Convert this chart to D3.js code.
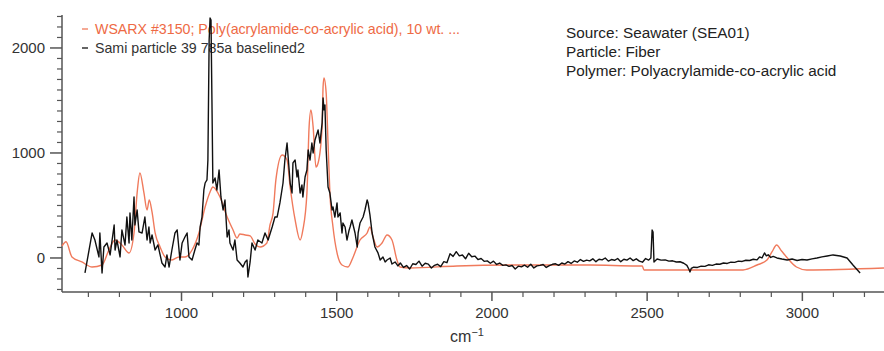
<!DOCTYPE html>
<html>
<head>
<meta charset="utf-8">
<script src="https://cdn.jsdelivr.net/npm/d3@7"></script>
<style>
  html, body { margin: 0; padding: 0; background: #fff; }
  svg { display: block; font-family: "Liberation Sans", Arial, sans-serif; }
</style>
</head>
<body>
<svg id="chart" width="884" height="351"></svg>
<script>
// Reference spectrum: WSARX #3150 (smooth library spectrum)
const refWavenumber = [615,628,647,679,712,744,766,786,808,831,847,857,866,879,889,896,905,915,931,947,969,992,1011,1034,1056,1076,1092,1101,1124,1147,1166,1179,1188,1205,1221,1237,1253,1275,1285,1295,1304,1324,1340,1350,1366,1382,1391,1404,1411,1417,1424,1433,1440,1453,1456,1459,1466,1472,1478,1488,1501,1517,1536,1553,1575,1598,1607,1617,1630,1646,1662,1678,1694,1704,1736,1887,2100,2316,2467,2484,2490,2809,2854,2886,2902,2917,2933,2949,2981,3014,3263];
const refIntensity  = [114,155,10,-38,-86,-67,76,171,124,48,238,619,810,619,457,552,438,238,105,10,-19,10,10,76,238,486,629,676,581,390,267,190,229,219,210,133,105,143,314,430,743,981,933,676,362,171,267,619,1248,1410,1248,867,905,1248,1629,1714,1571,1095,619,295,48,-67,-86,10,171,238,295,200,105,143,219,171,-19,-86,-95,-76,-67,-67,-76,-76,-114,-114,-67,-19,57,124,67,10,-86,-114,-95];

// Measured particle spectrum: Sami particle 39 785a baselined2
const sampleWavenumber = [689,712,721,734,737,744,750,760,770,783,786,792,802,808,818,824,831,834,840,847,850,857,863,873,882,889,895,899,905,915,924,937,947,953,960,969,979,986,992,995,1002,1011,1018,1024,1034,1043,1050,1056,1060,1066,1072,1076,1082,1085,1089,1092,1095,1098,1101,1108,1114,1121,1127,1134,1140,1147,1153,1156,1166,1172,1179,1188,1198,1205,1211,1214,1221,1227,1237,1246,1259,1269,1279,1292,1301,1308,1317,1327,1333,1340,1343,1350,1356,1359,1366,1372,1375,1382,1388,1391,1398,1404,1408,1414,1420,1424,1430,1437,1440,1446,1453,1456,1459,1462,1466,1472,1478,1485,1488,1494,1501,1504,1511,1517,1520,1527,1533,1540,1543,1549,1559,1566,1569,1575,1585,1591,1598,1601,1607,1614,1623,1633,1640,1649,1656,1662,1672,1678,1688,1697,
  1705,1715,1725,1735,1745,1755,1765,1775,1785,1795,1805,1815,1825,1835,1845,1855,1865,1875,1885,1895,1905,1915,1925,1935,1945,1955,1965,1975,1985,1995,2005,2015,2025,2035,2045,2055,2065,2075,2085,2095,2105,2115,2125,2135,2145,2155,2165,2175,2185,2195,2205,2215,2225,2235,2245,2255,2265,2275,2285,2295,2305,2315,2325,2335,2345,2355,2365,2375,2385,2395,2405,2415,2425,2435,2445,2455,2465,2475,2485,2495,2505,2512,2516,2519,2522,
  2532,2545,2558,2570,2582,2594,2606,2618,2628,2635,2638,2642,2650,2662,2674,2686,2698,2710,2722,2734,2746,2758,2770,2782,2794,2806,2818,2830,2842,2854,2862,2870,2878,2884,2890,2898,2906,2918,2934,2951,2967,2983,2999,3015,3031,3047,3063,3080,3099,3122,3144,3163,3186];
const sampleIntensity  = [-143,238,171,10,238,-143,105,143,29,314,76,171,10,267,124,390,143,429,171,581,314,457,248,238,390,171,295,143,219,76,124,-48,-86,29,-86,76,238,267,76,-19,143,200,238,10,-19,76,143,124,295,390,648,714,743,933,2076,2286,2267,1505,714,762,648,838,581,457,552,200,267,143,76,171,-19,-48,-86,-38,-19,-181,-38,143,76,171,143,238,171,295,390,390,524,714,933,1095,981,714,619,905,933,771,838,619,695,581,771,838,1029,933,1095,1000,1124,1190,1219,1095,1286,1524,1410,1457,1029,676,619,457,486,390,524,390,429,238,333,295,171,267,295,362,238,105,238,333,390,457,552,524,410,238,105,48,-19,10,-38,-19,0,-57,-38,-76,
  -48,-90,-72,-105,-55,-62,-30,-78,-50,-58,-95,-70,-60,-82,-35,-45,40,15,60,20,28,-8,45,12,18,-15,-5,-32,-28,-50,-30,-62,-48,-70,-66,-80,-72,-105,-78,-85,-68,-88,-60,-95,-75,-70,-62,-90,-72,-60,-55,-70,-48,-58,-35,-52,-28,-40,-15,-32,-20,-28,-8,-35,-12,-18,0,-30,-15,-22,-5,-35,-12,-20,0,-25,-8,-30,-40,-5,-20,0,267,248,-38,
  -10,-20,-18,-30,-27,-38,-36,-50,-70,-110,-133,-100,-88,-90,-78,-80,-65,-70,-58,-60,-48,-52,-40,-42,-30,-33,-22,-24,-12,-18,10,0,48,20,30,5,15,0,-10,-19,-10,-24,-15,-19,-8,0,10,19,29,19,0,-67,-143];

const xTickLabels = [1000, 1500, 2000, 2500, 3000];
const yTickLabels = [0, 1000, 2000];
const legendLabels = [
  "WSARX #3150; Poly(acrylamide-co-acrylic acid), 10 wt. ...",
  "Sami particle 39 785a baselined2"
];
const infoLines = [
  "Source: Seawater (SEA01)",
  "Particle: Fiber",
  "Polymer: Polyacrylamide-co-acrylic acid"
];

const refColor = "#f07a5c";
const refTextColor = "#ee6a45";
const sampleColor = "#111111";
const axisColor = "#555555";
const textColor = "#333333";

const svg = d3.select("#chart");
const plotLeft = 62, plotRight = 884, plotTop = 15, plotBottom = 292;

const x = d3.scaleLinear().domain([615, 3263]).range([plotLeft, plotRight]);
const y = d3.scaleLinear().domain([-324, 2314]).range([plotBottom, plotTop]);

// Minor ticks every 100, labelled major ticks every 500 / 1000
const xMinor = d3.range(700, 3201, 100).filter(v => v % 500 !== 0);
const yMinor = d3.range(-300, 2301, 100).filter(v => v % 1000 !== 0);

const axes = svg.append("g");

// x axis
const gx = axes.append("g").attr("transform", `translate(0,${plotBottom})`);
gx.append("line").attr("x1", plotLeft).attr("x2", plotRight).attr("stroke", axisColor).attr("stroke-width", 1.5);
gx.selectAll("line.minor").data(xMinor).join("line").attr("class", "minor")
  .attr("x1", d => x(d)).attr("x2", d => x(d)).attr("y1", 0).attr("y2", 5)
  .attr("stroke", axisColor).attr("stroke-width", 1.2);
gx.selectAll("line.major").data(xTickLabels).join("line").attr("class", "major")
  .attr("x1", d => x(d)).attr("x2", d => x(d)).attr("y1", 0).attr("y2", 9)
  .attr("stroke", axisColor).attr("stroke-width", 1.5);
gx.selectAll("text").data(xTickLabels).join("text")
  .attr("x", d => x(d)).attr("y", 26).attr("text-anchor", "middle")
  .attr("font-size", 15).attr("fill", textColor).text(d => d);

// y axis
const gy = axes.append("g").attr("transform", `translate(${plotLeft},0)`);
gy.append("line").attr("y1", plotTop).attr("y2", plotBottom).attr("stroke", axisColor).attr("stroke-width", 1.5);
gy.selectAll("line.minor").data(yMinor).join("line").attr("class", "minor")
  .attr("y1", d => y(d)).attr("y2", d => y(d)).attr("x1", 0).attr("x2", -5)
  .attr("stroke", axisColor).attr("stroke-width", 1.2);
gy.selectAll("line.major").data(yTickLabels).join("line").attr("class", "major")
  .attr("y1", d => y(d)).attr("y2", d => y(d)).attr("x1", 0).attr("x2", -12)
  .attr("stroke", axisColor).attr("stroke-width", 1.5);
gy.selectAll("text").data(yTickLabels).join("text")
  .attr("x", -17).attr("y", d => y(d) + 5).attr("text-anchor", "end")
  .attr("font-size", 15).attr("fill", textColor).text(d => d);

// axis title
const xt = svg.append("text").attr("x", 467).attr("y", 342).attr("text-anchor", "middle")
  .attr("font-size", 16).attr("fill", textColor);
xt.append("tspan").text("cm");
xt.append("tspan").attr("dy", -6).attr("font-size", 11).text("−1");

// legend
const legend = svg.append("g");
[[refTextColor, refColor], [textColor, sampleColor]].forEach((c, i) => {
  const yy = 29 + i * 19;
  legend.append("line").attr("x1", 82).attr("x2", 88).attr("y1", yy).attr("y2", yy)
    .attr("stroke", c[1]).attr("stroke-width", 1.3);
  legend.append("text").attr("x", 95).attr("y", yy + 5).attr("font-size", 14.2)
    .attr("fill", c[0]).text(legendLabels[i]);
});

// sample info block
svg.append("g").selectAll("text").data(infoLines).join("text")
  .attr("x", 566).attr("y", (d, i) => 38 + i * 19)
  .attr("font-size", 15.3).attr("fill", "#222").text(d => d);

// spectra
svg.append("path").datum(d3.zip(refWavenumber, refIntensity))
  .attr("d", d3.line().x(d => x(d[0])).y(d => y(d[1])).curve(d3.curveMonotoneX))
  .attr("fill", "none").attr("stroke", refColor).attr("stroke-width", 1.4);
svg.append("path").datum(d3.zip(sampleWavenumber, sampleIntensity))
  .attr("d", d3.line().x(d => x(d[0])).y(d => y(d[1])))
  .attr("fill", "none").attr("stroke", sampleColor).attr("stroke-width", 1.4)
  .attr("stroke-linejoin", "round");
</script>
</body>
</html>
